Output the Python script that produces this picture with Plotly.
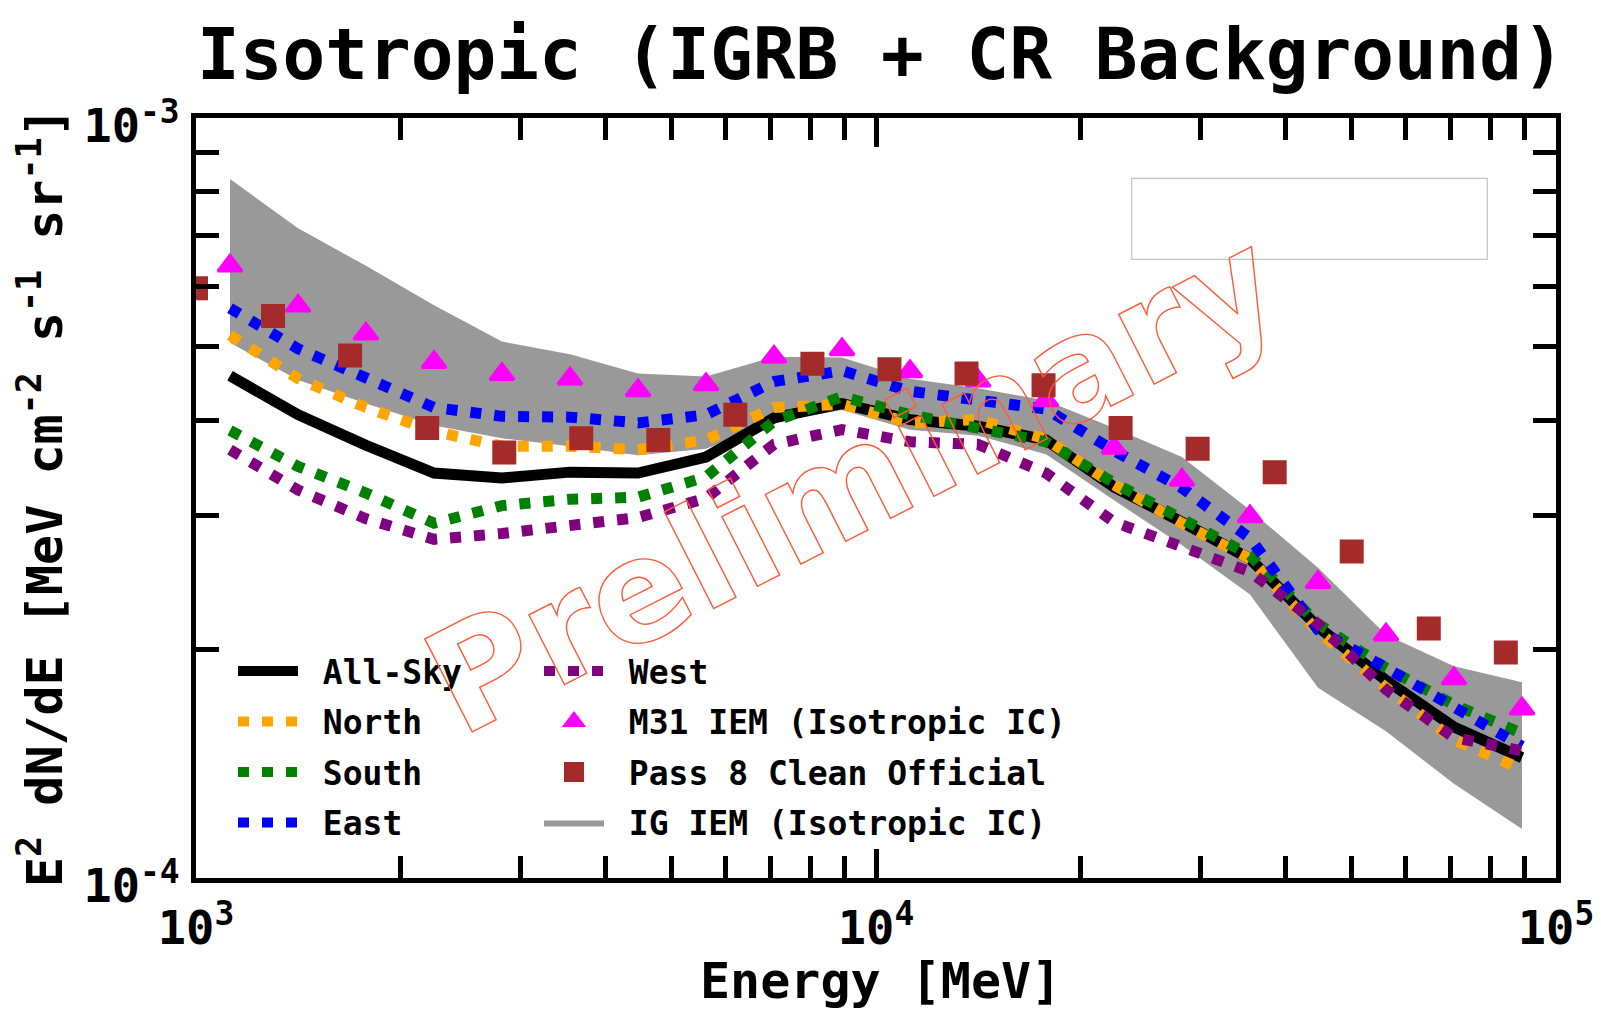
import plotly.graph_objects as go

# ---------------- data (E^2 dN/dE in units of 1e-4 MeV cm^-2 s^-1 sr^-1) -------------
E_MODEL = [1122, 1413, 1778, 2239, 2818, 3548, 4467, 5623, 7079, 8913,
           11220, 14130, 17780, 22390, 28180, 35480, 44670, 56230, 70790, 89130]
ALL_SKY = [4.58, 4.07, 3.71, 3.41, 3.36, 3.42, 3.41, 3.58, 4.03, 4.21,
           4.01, 3.93, 3.77, 3.27, 2.94, 2.63, 2.14, 1.82, 1.58, 1.44]
NORTH = [5.18, 4.54, 4.16, 3.87, 3.70, 3.70, 3.66, 3.77, 4.16, 4.20,
         3.97, 4.01, 3.78, 3.29, 2.93, 2.63, 2.11, 1.78, 1.52, 1.39]
SOUTH = [3.88, 3.48, 3.21, 2.93, 3.09, 3.15, 3.17, 3.37, 3.99, 4.30,
         4.07, 3.92, 3.75, 3.31, 2.98, 2.66, 2.16, 1.89, 1.69, 1.55]
EAST = [5.62, 4.97, 4.55, 4.16, 4.05, 4.04, 3.97, 4.07, 4.50, 4.65,
        4.37, 4.26, 4.14, 3.65, 3.26, 2.80, 2.12, 1.89, 1.68, 1.49]
WEST = [3.66, 3.24, 2.97, 2.79, 2.84, 2.91, 2.98, 3.16, 3.72, 3.89,
        3.75, 3.72, 3.41, 2.94, 2.72, 2.53, 2.16, 1.77, 1.53, 1.47]
IG_UPPER = [8.31, 7.16, 6.39, 5.67, 5.08, 4.89, 4.61, 4.57, 4.85, 4.84,
            4.54, 4.41, 4.25, 3.91, 3.58, 3.05, 2.56, 2.09, 1.90, 1.81]
IG_LOWER = [5.06, 4.52, 4.21, 3.94, 3.79, 3.70, 3.60, 3.67, 3.98, 4.13,
            3.89, 3.82, 3.61, 3.14, 2.74, 2.36, 1.78, 1.56, 1.33, 1.16]
M31_IEM = [6.39, 5.66, 5.20, 4.77, 4.60, 4.54, 4.38, 4.46, 4.85, 4.96,
           4.64, 4.51, 4.25, 3.68, 3.34, 2.99, 2.45, 2.09, 1.83, 1.67]
E_P8 = [1000, 1298, 1685, 2188, 2840, 3686, 4785, 6211, 8063, 10466,
        13586, 17636, 22893, 29717, 38575, 50070, 65000, 84370]
P8_CLEAN = [5.97, 5.49, 4.87, 3.91, 3.63, 3.79, 3.77, 4.07, 4.75, 4.67,
            4.61, 4.45, 3.91, 3.67, 3.42, 2.69, 2.13, 1.98]
UNIT = 1e-4

X_TICKS = [1e3, 1e4, 1e5]
X_TICKTEXT = ["10<sup>3</sup>", "10<sup>4</sup>", "10<sup>5</sup>"]
X_MINOR = [2e3, 3e3, 4e3, 5e3, 6e3, 7e3, 8e3, 9e3, 2e4, 3e4, 4e4, 5e4, 6e4, 7e4, 8e4, 9e4]
Y_TICKS = [1e-4, 1e-3]
Y_TICKTEXT = ["10<sup>-4</sup>", "10<sup>-3</sup>"]
Y_MINOR = [2e-4, 3e-4, 4e-4, 5e-4, 6e-4, 7e-4, 8e-4, 9e-4]


def sc(v):
    return [a * UNIT for a in v]


MONO = "DejaVu Sans Mono"
NB = "\u00a0"

fig = go.Figure()

# gray IG IEM band
fig.add_trace(go.Scatter(
    x=E_MODEL + E_MODEL[::-1], y=sc(IG_UPPER) + sc(IG_LOWER)[::-1],
    mode="lines", fill="toself", fillcolor="#999999", line=dict(width=0),
    name=NB + "IG IEM (Isotropic IC)", legend="legend2", legendrank=4,
    legendgroup="ig", hoverinfo="skip"))

DOT = "11px,13px"
fig.add_trace(go.Scatter(x=E_MODEL, y=sc(ALL_SKY), mode="lines",
                         line=dict(color="black", width=11),
                         name=NB + "All-Sky", legend="legend", legendrank=1, legendgroup="a"))
fig.add_trace(go.Scatter(x=E_MODEL, y=sc(NORTH), mode="lines",
                         line=dict(color="#FFA500", width=11, dash=DOT),
                         name=NB + "North", legend="legend", legendrank=2, legendgroup="n"))
fig.add_trace(go.Scatter(x=E_MODEL, y=sc(SOUTH), mode="lines",
                         line=dict(color="#008000", width=11, dash=DOT),
                         name=NB + "South", legend="legend", legendrank=3, legendgroup="s"))
fig.add_trace(go.Scatter(x=E_MODEL, y=sc(EAST), mode="lines",
                         line=dict(color="#0000FF", width=11, dash=DOT),
                         name=NB + "East", legend="legend", legendrank=4, legendgroup="e"))
fig.add_trace(go.Scatter(x=E_MODEL, y=sc(WEST), mode="lines",
                         line=dict(color="#800080", width=11, dash=DOT),
                         name=NB + "West", legend="legend2", legendrank=1, legendgroup="w"))
fig.add_trace(go.Scatter(x=E_MODEL, y=sc(M31_IEM), mode="markers",
                         marker=dict(symbol="triangle-up", size=21, color="#FF00FF",
                                     line=dict(width=3, color="#FF00FF")),
                         name=NB + "M31 IEM (Isotropic IC)", legend="legend2", legendrank=2,
                         legendgroup="m"))
fig.add_trace(go.Scatter(x=E_P8, y=sc(P8_CLEAN), mode="markers",
                         marker=dict(symbol="square", size=20, color="#A52A2A",
                                     line=dict(width=4, color="#A52A2A")),
                         name=NB + "Pass 8 Clean Official", legend="legend2", legendrank=3,
                         legendgroup="p"))

W, H = 1601, 1016
L, R, T, B = 196, 45, 118, 138
PW, PH = W - L - R, H - T - B


def px_x(x):
    return (x - L) / PW


def px_y(y):
    return (H - B - y) / PH


tickfont = dict(family=MONO, size=47, color="black", weight="bold")
legfont = dict(family=MONO, size=33, color="black", weight="bold")

fig.update_layout(
    width=W, height=H,
    margin=dict(l=L, r=R, t=T, b=B, autoexpand=False),
    paper_bgcolor="white", plot_bgcolor="white",
    showlegend=True,
    xaxis=dict(type="log", range=[3, 5], showgrid=False, zeroline=False,
               showline=True, linecolor="black", linewidth=5, mirror="ticks",
               ticks="inside", ticklen=29, tickwidth=4.5, tickcolor="black",
               tickmode="array", tickvals=X_TICKS, ticktext=X_TICKTEXT,
               tickfont=tickfont, ticklabelstandoff=5,
               minor=dict(ticks="inside", ticklen=22, tickwidth=4.5, tickcolor="black",
                          tickvals=X_MINOR, showgrid=False)),
    yaxis=dict(type="log", range=[-4, -3], showgrid=False, zeroline=False,
               showline=True, linecolor="black", linewidth=5, mirror="ticks",
               ticks="inside", ticklen=29, tickwidth=4.5, tickcolor="black",
               tickmode="array", tickvals=Y_TICKS, ticktext=Y_TICKTEXT,
               tickfont=tickfont, ticklabelstandoff=2, ticklabelshift=8,
               minor=dict(ticks="inside", ticklen=23, tickwidth=4.5, tickcolor="black",
                          tickvals=Y_MINOR, showgrid=False)),
    legend=dict(x=px_x(233), y=px_y(643), xanchor="left", yanchor="top",
                bgcolor="rgba(0,0,0,0)", borderwidth=0, font=legfont,
                itemwidth=60, tracegroupgap=4.6, traceorder="grouped"),
    legend2=dict(x=px_x(539), y=px_y(643), xanchor="left", yanchor="top",
                 bgcolor="rgba(0,0,0,0)", borderwidth=0, font=legfont,
                 itemwidth=60, tracegroupgap=4.6, traceorder="grouped"),
    shapes=[dict(type="rect", xref="paper", yref="paper",
                 x0=px_x(1131.7), x1=px_x(1487.3), y0=px_y(259.3), y1=px_y(178.3),
                 line=dict(color="#c4c4c4", width=1.2), fillcolor="rgba(255,255,255,0.85)",
                 layer="above")],
    annotations=[
        dict(text="Isotropic (IGRB + CR Background)", xref="paper", yref="paper",
             x=px_x(881), y=px_y(55), xanchor="center", yanchor="middle", showarrow=False,
             font=dict(family=MONO, size=71, color="black", weight="bold")),
        dict(text="Energy [MeV]", xref="paper", yref="paper",
             x=px_x(880.5), y=px_y(981), xanchor="center", yanchor="middle", showarrow=False,
             font=dict(family=MONO, size=50, color="black", weight="bold")),
        dict(text="E<sup>2</sup> dN/dE [MeV cm<sup>-2</sup> s<sup>-1</sup> sr<sup>-1</sup>]",
             xref="paper", yref="paper", x=px_x(41), y=px_y(497), textangle=-90,
             xanchor="center", yanchor="middle", showarrow=False,
             font=dict(family=MONO, size=50, color="black", weight="bold")),
        dict(text="Preliminary", xref="paper", yref="paper",
             x=px_x(852), y=px_y(482), textangle=-27, xanchor="center", yanchor="middle",
             showarrow=False,
             font=dict(family="DejaVu Sans", size=143, color="rgba(0,0,0,0)", weight="bold")),
    ],
)

post = """
var gd = document.getElementById('{plot_id}');
function outline(){
  gd.querySelectorAll('text').forEach(function(t){
    if (t.textContent === 'Preliminary') {
      t.style.fill = 'none';
      t.style.stroke = '#ff5a3c';
      t.style.strokeWidth = '1.4px';
    }
  });
}
outline();
gd.on('plotly_afterplot', outline);
"""

fig.write_html("out.html", post_script=post)
